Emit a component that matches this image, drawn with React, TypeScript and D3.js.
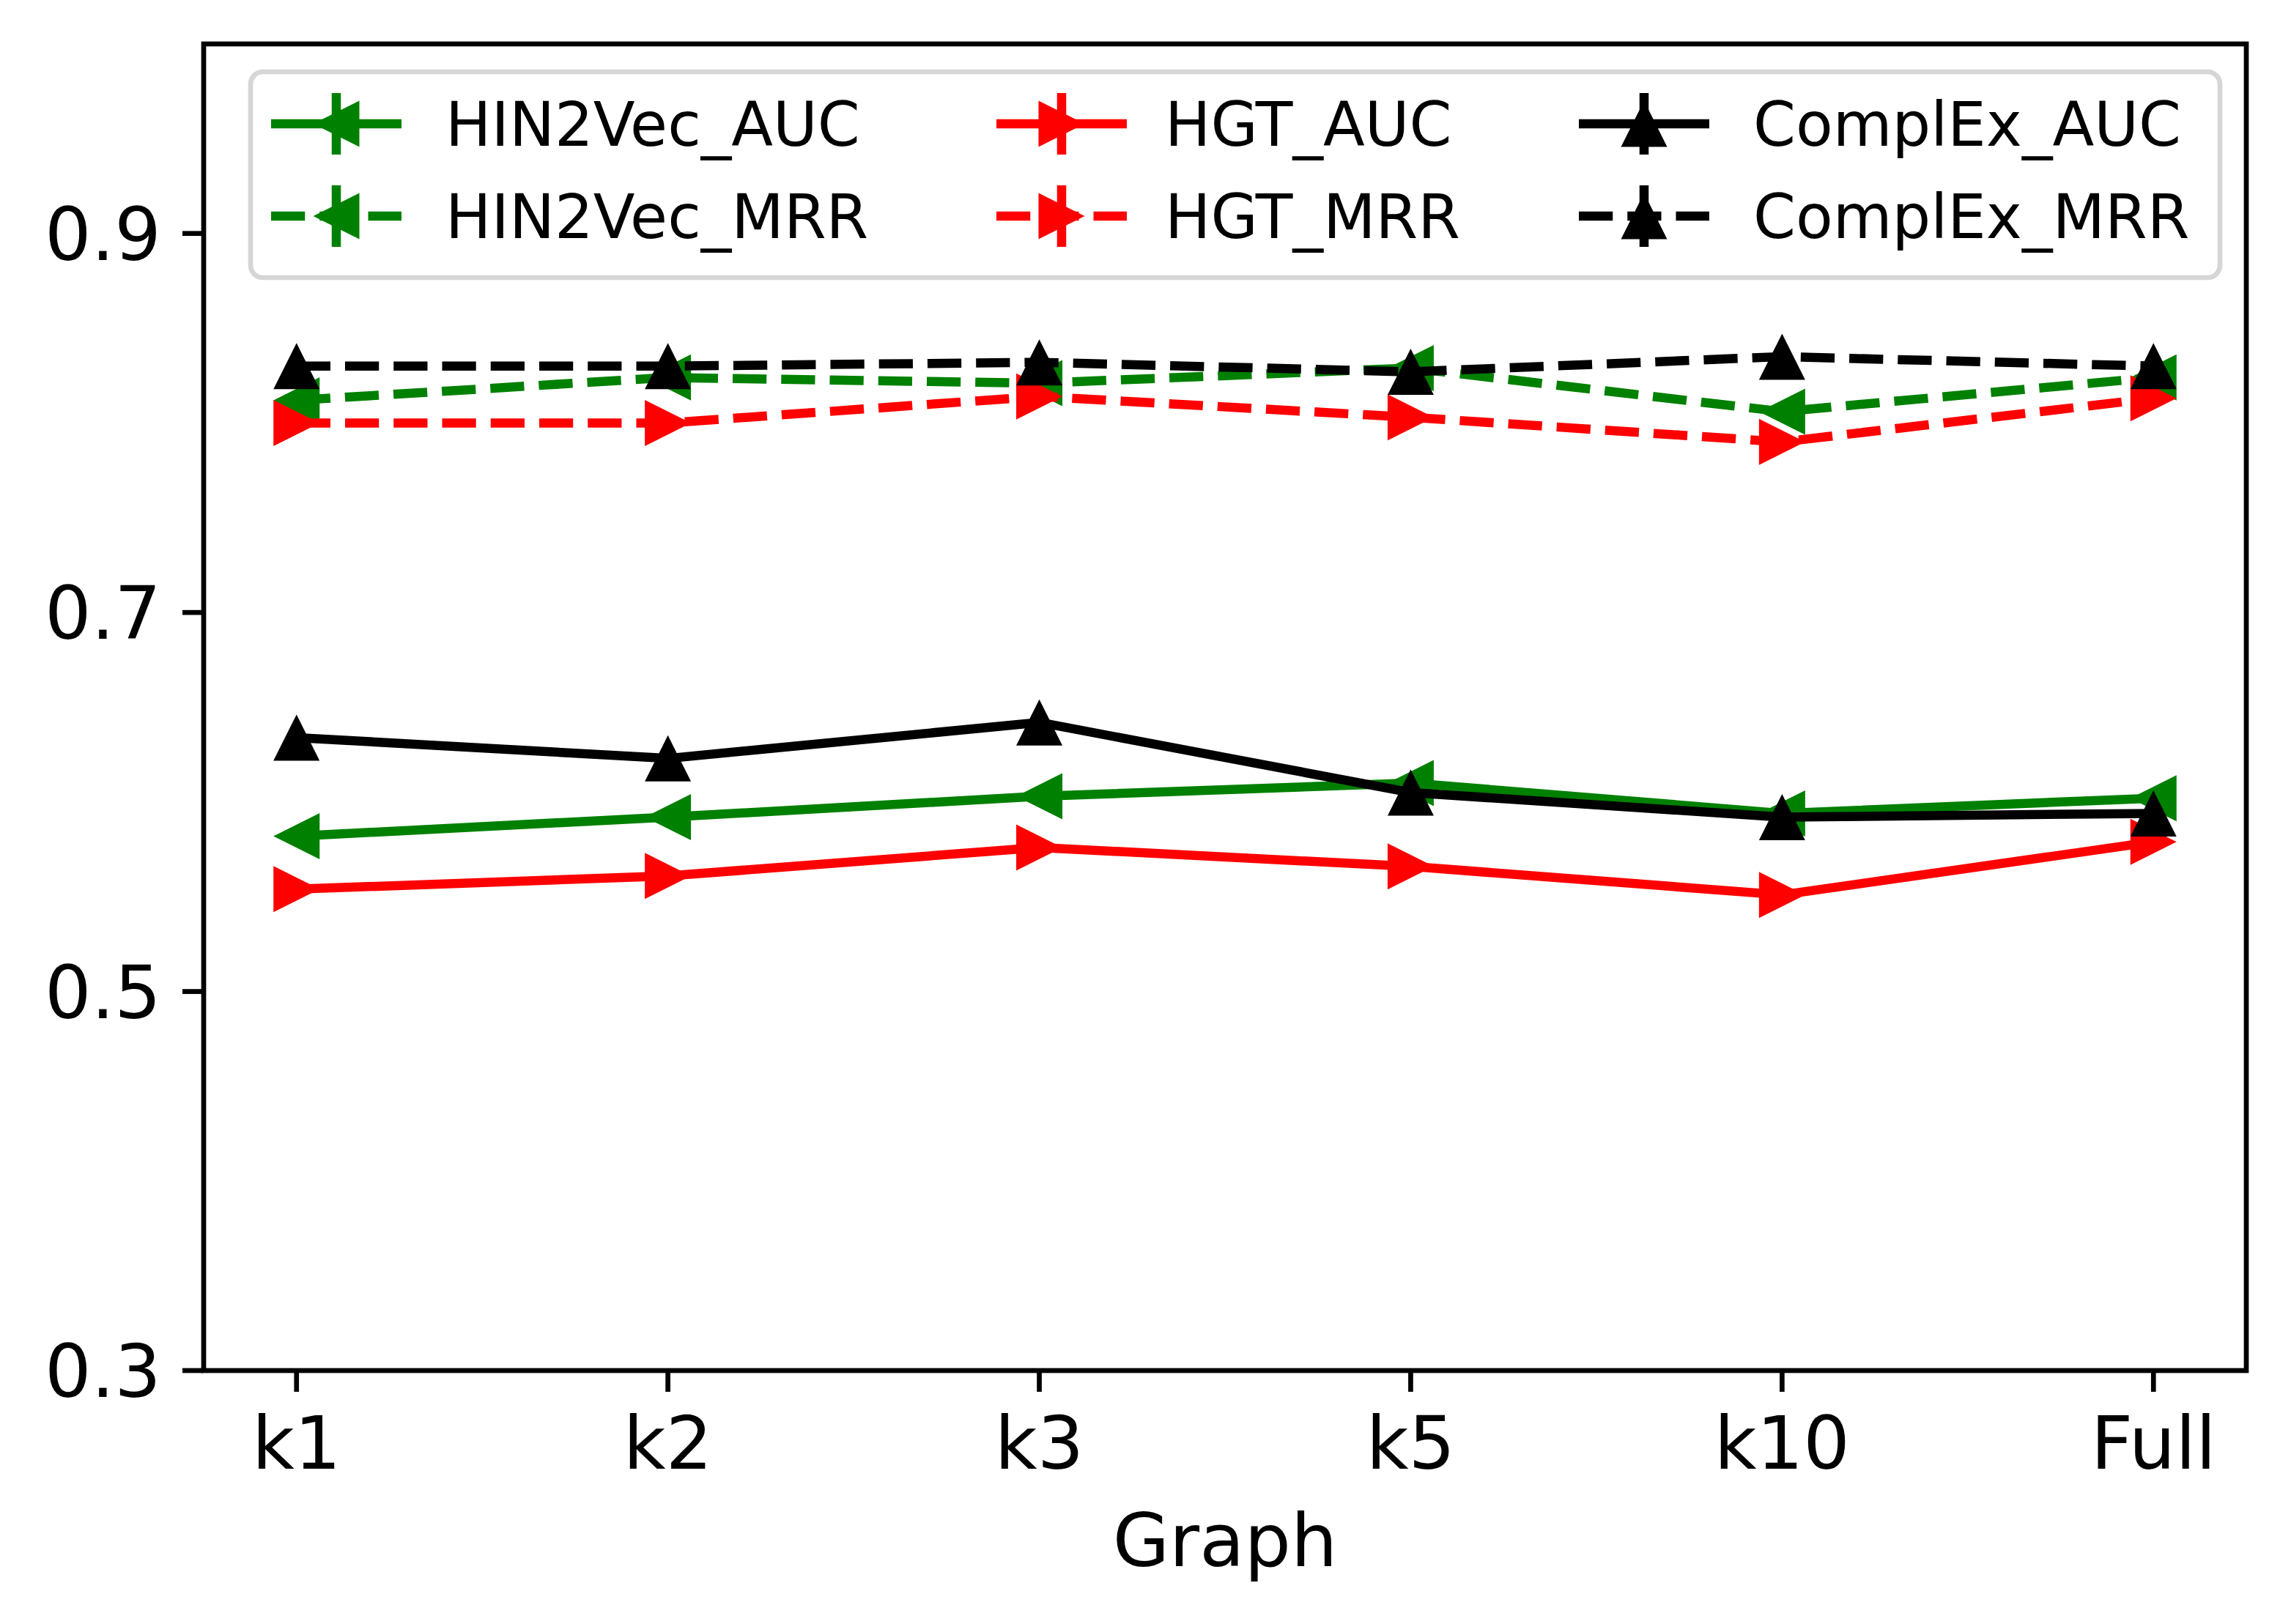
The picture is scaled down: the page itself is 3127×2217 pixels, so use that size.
import React from 'react';
import * as d3 from 'd3';

// Values
const graphs = ['k1', 'k2', 'k3', 'k5', 'k10', 'Full'];
const hin2vecAuc = [0.582, 0.592, 0.603, 0.610, 0.594, 0.602];
const hin2vecMrr = [0.812, 0.824, 0.821, 0.829, 0.806, 0.824];
const hgtAuc = [0.554, 0.561, 0.576, 0.566, 0.551, 0.579];
const hgtMrr = [0.800, 0.800, 0.814, 0.803, 0.790, 0.813];
const complexAuc = [0.634, 0.623, 0.642, 0.605, 0.592, 0.594];
const complexMrr = [0.830, 0.830, 0.832, 0.827, 0.835, 0.830];
const yTicks = [0.3, 0.5, 0.7, 0.9];

type Marker = 'left' | 'right' | 'up';

interface Series {
  name: string;
  values: number[];
  color: string;
  dashed: boolean;
  marker: Marker;
}

// plotting order (legend is filled column-wise)
const series: Series[] = [
  { name: 'HIN2Vec_AUC', values: hin2vecAuc, color: '#008000', dashed: false, marker: 'left' },
  { name: 'HIN2Vec_MRR', values: hin2vecMrr, color: '#008000', dashed: true, marker: 'left' },
  { name: 'HGT_AUC', values: hgtAuc, color: '#ff0000', dashed: false, marker: 'right' },
  { name: 'HGT_MRR', values: hgtMrr, color: '#ff0000', dashed: true, marker: 'right' },
  { name: 'ComplEx_AUC', values: complexAuc, color: '#000000', dashed: false, marker: 'up' },
  { name: 'ComplEx_MRR', values: complexMrr, color: '#000000', dashed: true, marker: 'up' },
];

const W = 3127;
const H = 2217;
const margin = { left: 278, right: W - 3066, top: 60, bottom: H - 1871 };
const FONT = '"DejaVu Sans", sans-serif';
const LW = 12.5;
const DASH = '46.25 20';
const MS = 63;
const SPINE = 6.7;
const TICK = 29;

// triangle path centred on (cx, cy), size s
const trianglePath = (m: Marker, cx: number, cy: number, s: number) => {
  const h = s / 2;
  let pts: [number, number][];
  if (m === 'up') pts = [[0, -h], [-h, h], [h, h]];
  else if (m === 'left') pts = [[-h, 0], [h, -h], [h, h]];
  else pts = [[h, 0], [-h, -h], [-h, h]];
  return 'M' + pts.map(([x, y]) => `${cx + x},${cy + y}`).join('L') + 'Z';
};

const App: React.FC = () => {
  const x = d3.scaleLinear().domain([-0.25, graphs.length - 0.75]).range([margin.left, W - margin.right]);
  const y = d3.scaleLinear().domain([0.3, 1.0]).range([H - margin.bottom, margin.top]);

  const line = d3.line<number>()
    .x((_, i) => x(i))
    .y(d => y(d));

  const plotLeft = margin.left;
  const plotRight = W - margin.right;
  const plotTop = margin.top;
  const plotBottom = H - margin.bottom;

  // legend layout
  const legend = { x: 342, y: 98, w: 3030 - 342, h: 379 - 98 };
  const colX = [370, 1360, 2155];
  const textX = [608, 1590, 2393];
  const rowY = [169, 295];
  const handleLen = 178;

  return (
    <svg
      width={W}
      height={H}
      viewBox={`0 0 ${W} ${H}`}
      style={{ position: 'absolute', left: 0, top: 0, background: '#fff' }}
      fontFamily={FONT}
    >
      <rect x={0} y={0} width={W} height={H} fill="#fff" />

      {/* series */}
      {series.map(s => (
        <g key={s.name}>
          <path
            d={line(s.values) || ''}
            fill="none"
            stroke={s.color}
            strokeWidth={LW}
            strokeDasharray={s.dashed ? DASH : undefined}
            strokeLinejoin="round"
          />
          {s.values.map((v, i) => (
            <path key={i} d={trianglePath(s.marker, x(i), y(v), MS)} fill={s.color} />
          ))}
        </g>
      ))}

      {/* spines */}
      <rect
        x={plotLeft}
        y={plotTop}
        width={plotRight - plotLeft}
        height={plotBottom - plotTop}
        fill="none"
        stroke="#000"
        strokeWidth={SPINE}
      />

      {/* x ticks */}
      {graphs.map((g, i) => (
        <g key={g}>
          <line x1={x(i)} x2={x(i)} y1={plotBottom} y2={plotBottom + TICK} stroke="#000" strokeWidth={SPINE} />
          <text x={x(i)} y={plotBottom + TICK + 29 + 76} fontSize={100} textAnchor="middle">{g}</text>
        </g>
      ))}

      {/* y ticks */}
      {yTicks.map(t => (
        <g key={t}>
          <line x1={plotLeft - TICK} x2={plotLeft} y1={y(t)} y2={y(t)} stroke="#000" strokeWidth={SPINE} />
          <text x={plotLeft - TICK - 29} y={y(t) + 36} fontSize={100} textAnchor="end">{d3.format('.1f')(t)}</text>
        </g>
      ))}

      <text x={(plotLeft + plotRight) / 2} y={2138} fontSize={100} textAnchor="middle">Graph</text>

      {/* legend */}
      <rect
        x={legend.x}
        y={legend.y}
        width={legend.w}
        height={legend.h}
        rx={17}
        fill="#fff"
        fillOpacity={0.8}
        stroke="#d6d6d6"
        strokeWidth={6.7}
      />
      {series.map((s, k) => {
        const col = Math.floor(k / 2);
        const row = k % 2;
        const hx = colX[col];
        const hy = rowY[row];
        const mx = hx + handleLen / 2;
        return (
          <g key={s.name}>
            <line
              x1={hx}
              x2={hx + handleLen}
              y1={hy}
              y2={hy}
              stroke={s.color}
              strokeWidth={LW}
              strokeDasharray={s.dashed ? DASH : undefined}
            />
            <line x1={mx} x2={mx} y1={hy - 42} y2={hy + 42} stroke={s.color} strokeWidth={LW} />
            <path d={trianglePath(s.marker, mx, hy, MS)} fill={s.color} />
            <text x={textX[col]} y={hy + 30} fontSize={83}>{s.name}</text>
          </g>
        );
      })}
    </svg>
  );
};

export default App;
